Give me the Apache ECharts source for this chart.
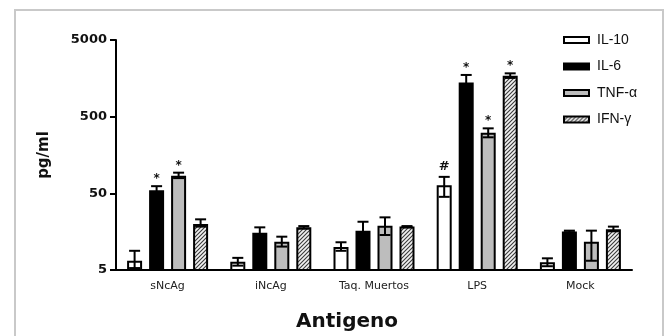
<!DOCTYPE html>
<html>
<head>
<meta charset="utf-8">
<script src="https://cdn.jsdelivr.net/npm/echarts@6/dist/echarts.min.js"></script>
<style>
  html, body { margin: 0; padding: 0; background: #fff; }
  #wrap { position: relative; width: 670px; height: 336px; overflow: hidden; }
  #frame { position: absolute; left: 14px; top: 9px; width: 650px; height: 340px; border: 2px solid #c9c9c9; box-sizing: border-box; }
  #chart { position: absolute; left: 0; top: 0; width: 670px; height: 336px; }
</style>
</head>
<body>
<div id="wrap"><div id="frame"></div><div id="chart"></div></div>
<script>
// ---- data ----
const categories = ['sNcAg', 'iNcAg', 'Taq. Muertos', 'LPS', 'Mock'];
const seriesNames = ['IL-10', 'IL-6', 'TNF-α', 'IFN-γ'];
const il10 = [6.6, 6.4, 10.0, 63.7, 6.3];
const il10Low = [5.3, 5.7, 8.9, 45, 5.6];
const il10High = [8.9, 7.2, 11.5, 82, 7.1];
const il6 = [55, 15.3, 16.3, 1400, 15.9];
const il6Low = [49, 13, 12.5, 1150, 15.5];
const il6High = [62, 18.0, 21.3, 1750, 16.3];
const tnf = [85, 11.7, 18.9, 309, 11.7];
const tnfLow = [79, 10.1, 14.3, 269, 6.6];
const tnfHigh = [93, 13.6, 24.3, 352, 16.3];
const ifn = [19.9, 18.0, 18.4, 1712, 17.0];
const ifnLow = [18.4, 17.3, 18.1, 1600, 16.0];
const ifnHigh = [22.9, 18.7, 18.7, 1837, 18.4];
const il10Marks = ['', '', '', '#', ''];
const il6Marks = ['*', '', '', '*', ''];
const tnfMarks = ['*', '', '', '*', ''];
const ifnMarks = ['', '', '', '*', ''];
const yTickLabels = ['5', '50', '500', '5000'];

// ---- styles ----
const BAR_W = 15;
const BAR_PITCH = 22;
function hatch() {
  const c = document.createElement('canvas');
  c.width = 4; c.height = 4;
  const g = c.getContext('2d');
  g.fillStyle = '#f2f2f2'; g.fillRect(0, 0, 4, 4);
  g.strokeStyle = '#3a3a3a'; g.lineWidth = 1.1;
  g.beginPath();
  g.moveTo(0, 4); g.lineTo(4, 0);
  g.moveTo(-1, 1); g.lineTo(1, -1);
  g.moveTo(3, 5); g.lineTo(5, 3);
  g.stroke();
  return { image: c, repeat: 'repeat' };
}
const fills = ['#ffffff', '#000000', '#bdbdbd', hatch()];
const values = [il10, il6, tnf, ifn];
const lows = [il10Low, il6Low, tnfLow, ifnLow];
const highs = [il10High, il6High, tnfHigh, ifnHigh];
const marks = [il10Marks, il6Marks, tnfMarks, ifnMarks];

const series = [];
values.forEach((vals, i) => {
  series.push({
    name: seriesNames[i], type: 'bar', yAxisIndex: 0,
    data: vals, barWidth: BAR_W, barGap: ((BAR_PITCH - BAR_W) / BAR_W * 100) + '%',
    itemStyle: { color: fills[i], borderColor: '#000', borderWidth: 2 },
    silent: true
  });
});
values.forEach((vals, i) => {
  series.push({
    name: seriesNames[i] + ' err', type: 'custom', yAxisIndex: 0, z: 5, silent: true,
    data: categories.map((c, k) => [k, lows[i][k], highs[i][k], marks[i][k]]),
    renderItem: function (params, api) {
      const off = (i - 1.5) * BAR_PITCH;
      const lo = api.coord([api.value(0), api.value(1)]);
      const hi = api.coord([api.value(0), api.value(2)]);
      const x = lo[0] + off;
      const cap = 5.5;
      const st = { stroke: '#000', lineWidth: 2 };
      const children = [
        { type: 'line', shape: { x1: x, y1: lo[1], x2: x, y2: hi[1] }, style: st },
        { type: 'line', shape: { x1: x - cap, y1: hi[1], x2: x + cap, y2: hi[1] }, style: st },
        { type: 'line', shape: { x1: x - cap, y1: lo[1], x2: x + cap, y2: lo[1] }, style: st }
      ];
      const m = marks[i][params.dataIndex];
      if (m) {
        children.push({
          type: 'text',
          style: {
            text: m, x: x, y: hi[1] - (m === '#' ? 4 : 1),
            align: 'center', verticalAlign: 'bottom',
            fill: '#111', font: (m === '#' ? 'bold 13px "DejaVu Sans"' : 'bold 12px "DejaVu Sans"')
          }
        });
      }
      return { type: 'group', children: children };
    }
  });
});

const chart = echarts.init(document.getElementById('chart'), null, { renderer: 'canvas' });
chart.setOption({
  animation: false,
  backgroundColor: 'transparent',
  title: {
    text: 'Antigeno', left: 342, top: 307, textAlign: 'center',
    textStyle: { fontFamily: 'DejaVu Sans', fontWeight: 'bold', fontSize: 20, color: '#111' }
  },
  legend: {
    data: seriesNames, orient: 'vertical', left: 558, top: 28,
    icon: 'rect',
    itemWidth: 25, itemHeight: 6, itemGap: 12.5,
    itemStyle: { borderColor: '#000', borderWidth: 2 },
    textStyle: { fontFamily: 'Liberation Sans', fontSize: 14, color: '#111', padding: [0, 0, 0, 3] },
    selectedMode: false
  },
  grid: { left: 116, right: 38, top: 40, bottom: 66, containLabel: false },
  xAxis: {
    type: 'category', data: categories,
    axisLine: { lineStyle: { color: '#000', width: 2 } },
    axisTick: { alignWithLabel: true, length: 5, lineStyle: { color: '#000', width: 2 } },
    axisLabel: { fontFamily: 'DejaVu Sans', fontSize: 11, color: '#222', margin: 11 }
  },
  yAxis: [
    { type: 'log', logBase: 10, min: 5, max: 5000, show: false },
    {
      type: 'value', min: 0, max: yTickLabels.length - 1, interval: 1, position: 'left',
      name: 'pg/ml', nameLocation: 'middle', nameRotate: 90, nameGap: 64,
      nameTextStyle: { fontFamily: 'DejaVu Sans', fontWeight: 'bold', fontSize: 15, color: '#111' },
      axisLine: { show: true, lineStyle: { color: '#000', width: 2 } },
      axisTick: { show: true, length: 6, lineStyle: { color: '#000', width: 2 } },
      axisLabel: {
        fontFamily: 'DejaVu Sans', fontWeight: 'bold', fontSize: 13, color: '#111', margin: 9,
        formatter: v => yTickLabels[Math.round(v)]
      },
      splitLine: { show: false }
    }
  ],
  series: series
});
</script>
</body>
</html>
